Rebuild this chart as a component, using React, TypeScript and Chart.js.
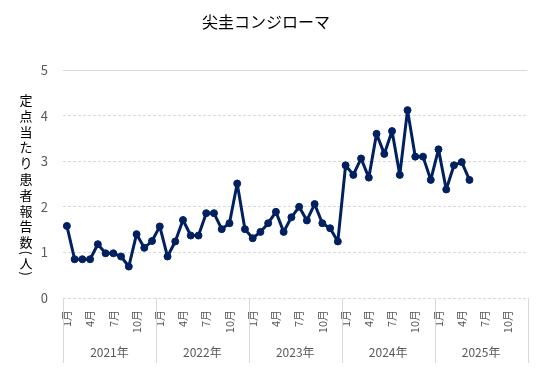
import React, { useEffect, useRef } from 'react';
import { Chart, registerables } from 'chart.js';

Chart.register(...registerables);

const titleText = '尖圭コンジローマ';
const yAxisTitle = ['定', '点', '当', 'た', 'り', '患', '者', '報', '告', '数', '(', '人', ')'];
const years = ['2021年', '2022年', '2023年', '2024年', '2025年'];
const months = ['1月', '2月', '3月', '4月', '5月', '6月', '7月', '8月', '9月', '10月', '11月', '12月'];
const shownMonths = ['1月', '4月', '7月', '10月'];
const yTicks = [0, 1, 2, 3, 4, 5];

const values2021 = [1.58, 0.85, 0.85, 0.85, 1.18, 0.98, 0.98, 0.91, 0.69, 1.40, 1.10, 1.25];
const values2022 = [1.57, 0.91, 1.24, 1.71, 1.37, 1.37, 1.86, 1.86, 1.51, 1.64, 2.51, 1.51];
const values2023 = [1.31, 1.45, 1.64, 1.89, 1.45, 1.77, 2.00, 1.70, 2.06, 1.64, 1.53, 1.24];
const values2024 = [2.91, 2.70, 3.06, 2.64, 3.60, 3.16, 3.66, 2.70, 4.12, 3.10, 3.10, 2.59];
const values2025 = [3.26, 2.38, 2.91, 2.98, 2.59, null, null, null, null, null, null, null];

const categories = years.flatMap((y) => months.map((m) => y + m));
const monthOf = years.flatMap(() => months);
const series = [...values2021, ...values2022, ...values2023, ...values2024, ...values2025];

const FONT = "'Noto Sans CJK JP', 'Noto Sans', sans-serif";
const LINE = '#002060';
const GRID = '#d9d9d9';
const TEXT = '#595959';

const yearGroupPlugin = {
  id: 'yearGroups',
  afterDraw(chart: any) {
    const { ctx, chartArea } = chart;
    const x = chart.scales.x;
    const bottom = chartArea.bottom;
    ctx.save();
    ctx.strokeStyle = GRID;
    ctx.lineWidth = 1;
    ctx.fillStyle = TEXT;
    ctx.font = `12px ${FONT}`;
    ctx.textAlign = 'center';
    ctx.textBaseline = 'middle';
    const n = months.length;
    const edge = (k: number) => {
      if (k === 0) return chartArea.left;
      if (k === years.length) return chartArea.right;
      return (x.getPixelForValue(k * n - 1) + x.getPixelForValue(k * n)) / 2;
    };
    for (let k = 0; k <= years.length; k++) {
      const px = Math.round(edge(k)) + 0.5;
      ctx.beginPath();
      ctx.moveTo(px, bottom);
      ctx.lineTo(px, bottom + 65);
      ctx.stroke();
    }
    years.forEach((y, k) => {
      ctx.fillText(y, (edge(k) + edge(k + 1)) / 2, bottom + 54);
    });
    ctx.restore();
  },
};

const yTitlePlugin = {
  id: 'yTitleVertical',
  afterDraw(chart: any) {
    const { ctx } = chart;
    ctx.save();
    ctx.fillStyle = '#000';
    ctx.font = `13px ${FONT}`;
    ctx.textAlign = 'center';
    ctx.textBaseline = 'middle';
    const cx = 26;
    let y = 100;
    let prevParen = false;
    yAxisTitle.forEach((ch, i) => {
      const paren = ch === '(' || ch === ')';
      if (i > 0) y += paren || prevParen ? 10.5 : 15.8;
      if (paren) {
        ctx.save();
        ctx.translate(cx, y);
        ctx.rotate(Math.PI / 2);
        ctx.fillText(ch, 0, 0);
        ctx.restore();
      } else {
        ctx.fillText(ch, cx, y);
      }
      prevParen = paren;
    });
    ctx.restore();
  },
};

export default function App() {
  const ref = useRef<HTMLCanvasElement | null>(null);

  useEffect(() => {
    if (!ref.current) return;
    Chart.defaults.font.family = FONT;
    const chart = new Chart(ref.current, {
      type: 'line',
      data: {
        labels: categories,
        datasets: [
          {
            data: series,
            borderColor: LINE,
            backgroundColor: LINE,
            borderWidth: 3,
            borderJoinStyle: 'round',
            borderCapStyle: 'round',
            pointRadius: 3.5,
            pointBorderWidth: 1,
            pointBackgroundColor: LINE,
            pointBorderColor: LINE,
            tension: 0,
            spanGaps: false,
          },
        ],
      },
      options: {
        responsive: false,
        animation: false,
        layout: { padding: { left: 0, right: 17, top: 0, bottom: 0 } },
        plugins: {
          legend: { display: false },
          tooltip: { enabled: false },
          title: {
            display: true,
            text: titleText,
            color: '#000',
            font: { size: 16, weight: 'normal', family: FONT, lineHeight: 1.2 },
            padding: { top: 12, bottom: 38.8 },
          },
        },
        scales: {
          x: {
            type: 'category',
            offset: true,
            grid: { display: false, drawTicks: false },
            border: { display: false },
            ticks: {
              autoSkip: false,
              maxRotation: 90,
              minRotation: 90,
              padding: 12,
              color: TEXT,
              font: { size: 11, family: FONT },
              callback: (_v: any, i: number) => (shownMonths.includes(monthOf[i]) ? monthOf[i] : ''),
            },
            afterFit: (s: any) => {
              s.height = 82;
            },
          },
          y: {
            min: yTicks[0],
            max: yTicks[yTicks.length - 1],
            afterBuildTicks: (s: any) => {
              s.ticks = yTicks.map((v) => ({ value: v }));
            },
            grid: { color: GRID, drawTicks: false, lineWidth: 1 },
            border: {
              display: false,
              dash: (c: any) => (c.tick && c.tick.value === 5 ? [] : [3, 2]),
            },
            ticks: {
              padding: 15,
              color: TEXT,
              font: { size: 13, family: FONT },
            },
            afterFit: (s: any) => {
              s.width = 63;
            },
          },
        },
      },
      plugins: [yearGroupPlugin, yTitlePlugin],
    });
    return () => chart.destroy();
  }, []);

  return (
    <div style={{ position: 'fixed', left: 0, top: 0, width: 549, height: 380, background: '#fff' }}>
      <canvas ref={ref} width={549} height={380} />
    </div>
  );
}
